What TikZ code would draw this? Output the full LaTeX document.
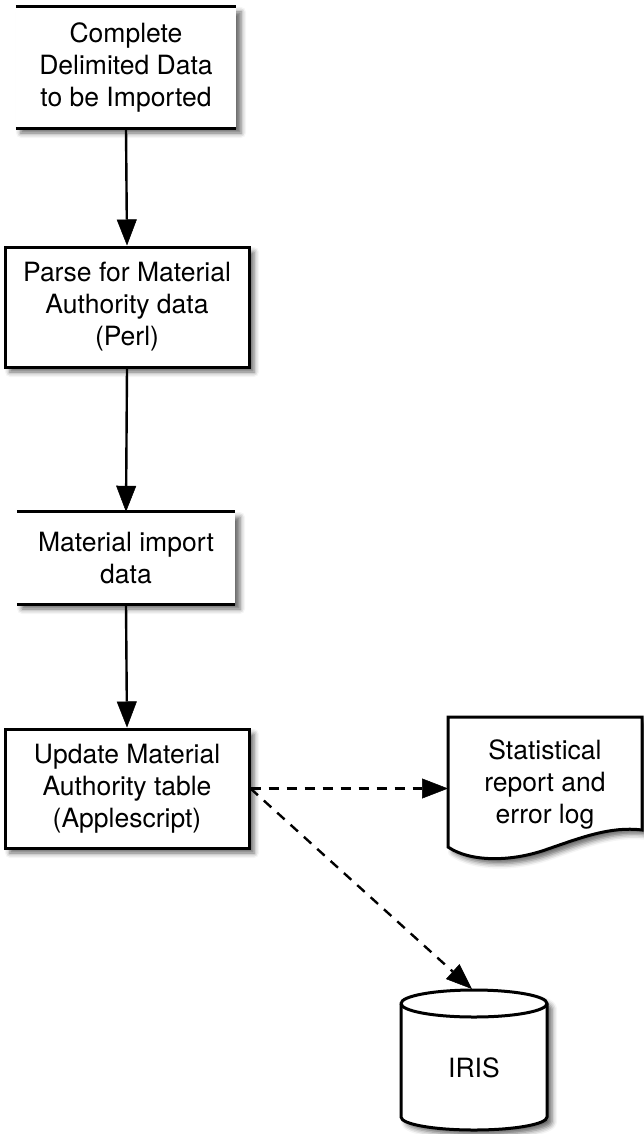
\documentclass[tikz,border=0pt]{standalone}
\usepackage{fontspec}
\setmainfont{TeX Gyre Heros}
\usetikzlibrary{arrows.meta,shadows.blur}
\begin{document}
\begin{tikzpicture}[x=1pt,y=-1pt,
  txt/.style={font=\fontsize{26.5}{32}\selectfont, align=center, inner sep=0pt},
  shad/.style={blur shadow={shadow xshift=5pt, shadow yshift=-5pt, shadow blur radius=5pt, shadow opacity=60}},
  procbox/.style={txt, draw, line width=3pt, fill=white, shad},
  storebox/.style={txt, fill=white, shad},
  storeline/.style={line width=3pt},
  shapeline/.style={line width=3pt, fill=white},
  flow/.style={line width=2.4pt, -{Triangle[length=26pt,width=20pt,fill=black,line width=0.5pt]}},
  dflow/.style={flow, dash pattern=on 10pt off 8pt}]
\useasboundingbox (0,0) rectangle (644,1134);

% box 1 (data store)
\node[storebox, minimum width=220pt, minimum height=121pt] (b1) at (126,67.5)
  {Complete\\Delimited Data\\to be Imported};
\draw[storeline] (b1.north west) -- (b1.north east);
\draw[storeline] (b1.south west) -- (b1.south east);

% box 2
\node[procbox, minimum width=244pt, minimum height=120pt] (b2) at (127,307)
  {Parse for Material\\Authority data\\(Perl)};

% box 3 (data store)
\node[storebox, minimum width=218pt, minimum height=92pt] (b3) at (126,558)
  {Material import\\data};
\draw[storeline] (b3.north west) -- (b3.north east);
\draw[storeline] (b3.south west) -- (b3.south east);

% box 4
\node[procbox, minimum width=244pt, minimum height=119pt] (b4) at (127,788.5)
  {Update Material\\Authority table\\(Applescript)};

% document
\filldraw[shapeline, shad] (448,717) -- (642,717) -- (642,830)
  .. controls (610,826) and (580,838) .. (545,850)
  .. controls (510,862) and (470,862) .. (448,847) -- cycle;
\node[txt] (doc) at (545,784) {Statistical\\report and\\error log};
\coordinate (docin) at (448,788.5);

% cylinder
\filldraw[shapeline, shad] (401,1003.5) -- (401,1117)
  arc[start angle=180, end angle=0, x radius=73, y radius=13]
  -- (547,1003.5)
  arc[start angle=0, end angle=-180, x radius=73, y radius=13.5] -- cycle;
\draw[line width=3pt] (401,1003.5) arc[start angle=180, end angle=0, x radius=73, y radius=13.5];
\node[txt] (iris) at (474,1068) {IRIS};
\coordinate (iristop) at (472,989);

% connectors
\draw[flow] (b1.south) -- (b2.north);
\draw[flow] (b2.south) -- (b3.north);
\draw[flow] (b3.south) -- (b4.north);
\draw[dflow] (b4.east) -- (docin);
\draw[dflow] (b4.east) -- (iristop);
\end{tikzpicture}
\end{document}
